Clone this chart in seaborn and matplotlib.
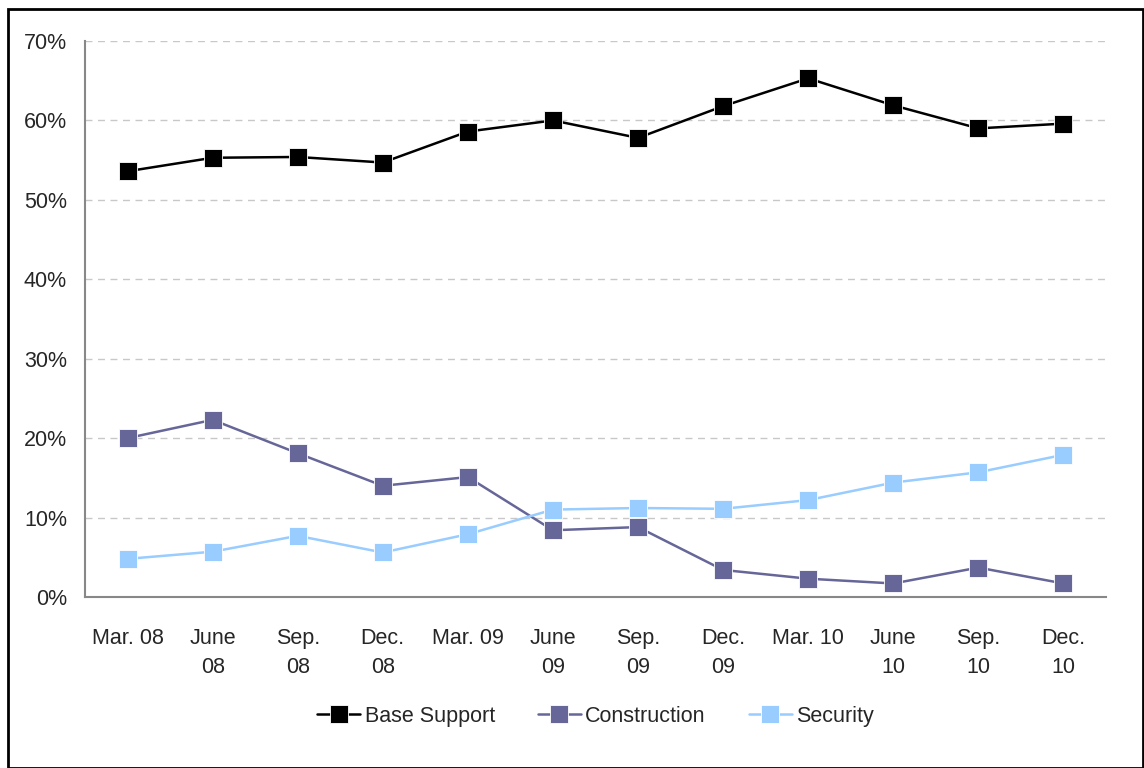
import numpy as np
import pandas as pd
import matplotlib
matplotlib.use("Agg")
import matplotlib.pyplot as plt
import seaborn as sns
from matplotlib.patches import Rectangle

quarters = ["Mar. 08", "June\n08", "Sep.\n08", "Dec.\n08", "Mar. 09", "June\n09",
            "Sep.\n09", "Dec.\n09", "Mar. 10", "June\n10", "Sep.\n10", "Dec.\n10"]
base_support = [53.6, 55.3, 55.4, 54.7, 58.6, 60.0, 57.8, 61.8, 65.3, 61.9, 59.0, 59.6]
construction = [20.0, 22.3, 18.1, 14.0, 15.1, 8.4, 8.8, 3.4, 2.3, 1.7, 3.7, 1.7]
security = [4.8, 5.7, 7.7, 5.6, 7.9, 11.0, 11.2, 11.1, 12.2, 14.4, 15.7, 17.9]

series = {"Base Support": base_support, "Construction": construction, "Security": security}
colors = {"Base Support": "#000000", "Construction": "#666699", "Security": "#99CCFF"}

rows = []
for name, vals in series.items():
    for i, v in enumerate(vals):
        rows.append({"pos": i, "value": v / 100, "series": name})
df = pd.DataFrame(rows)

sns.set_style("white")
plt.rcParams['font.family'] = ['Liberation Sans', 'DejaVu Sans']

fig = plt.figure(figsize=(11.44, 7.68), dpi=100)
ax = fig.add_axes([0.0743, 0.2227, 0.8925, 0.7239])

sns.lineplot(data=df, x="pos", y="value", hue="series", palette=colors,
             marker="s", markersize=12.5, markeredgewidth=0.6, markeredgecolor="white",
             linewidth=1.8, ax=ax, legend=True)

ax.set_xlim(-0.5, 11.5)
ax.set_ylim(0, 0.7)
ax.set_yticks(np.arange(0, 0.71, 0.1))
ax.set_yticklabels([f"{int(round(t*100))}%" for t in np.arange(0, 0.71, 0.1)])
ax.set_xticks(range(12))
ax.set_xticklabels(quarters, linespacing=1.5)
ax.set_xticks(np.arange(-0.5, 12, 1), minor=True)
ax.tick_params(axis="x", which="major", length=0, pad=22, labelsize=15.5)
ax.tick_params(axis="x", which="minor", length=7, color="#555555", width=1)
ax.tick_params(axis="y", length=7, color="#555555", width=1, labelsize=15.5, pad=6)
ax.set_xlabel("")
ax.set_ylabel("")

ax.yaxis.grid(True, linestyle=(0, (5, 4)), color="#c8c8c8", linewidth=1)
ax.set_axisbelow(True)
for s in ["top", "right"]:
    ax.spines[s].set_visible(False)
for s in ["left", "bottom"]:
    ax.spines[s].set_color("#888888")
    ax.spines[s].set_linewidth(1.5)

for lab in ax.get_xticklabels():
    lab.set_horizontalalignment("center")
    lab.set_multialignment("center")

handles, labels = ax.get_legend_handles_labels()
ax.legend(handles, labels, loc="center", bbox_to_anchor=(0.5, -0.215), ncol=3,
          frameon=False, fontsize=15.5, handlelength=2.0, handletextpad=0.2,
          columnspacing=2.0)

fig.patches.append(Rectangle((8 / 1144, 0), 1135 / 1144, 759 / 768, transform=fig.transFigure,
                             fill=False, edgecolor="black", linewidth=2))

fig.savefig("out.png", dpi=100)
